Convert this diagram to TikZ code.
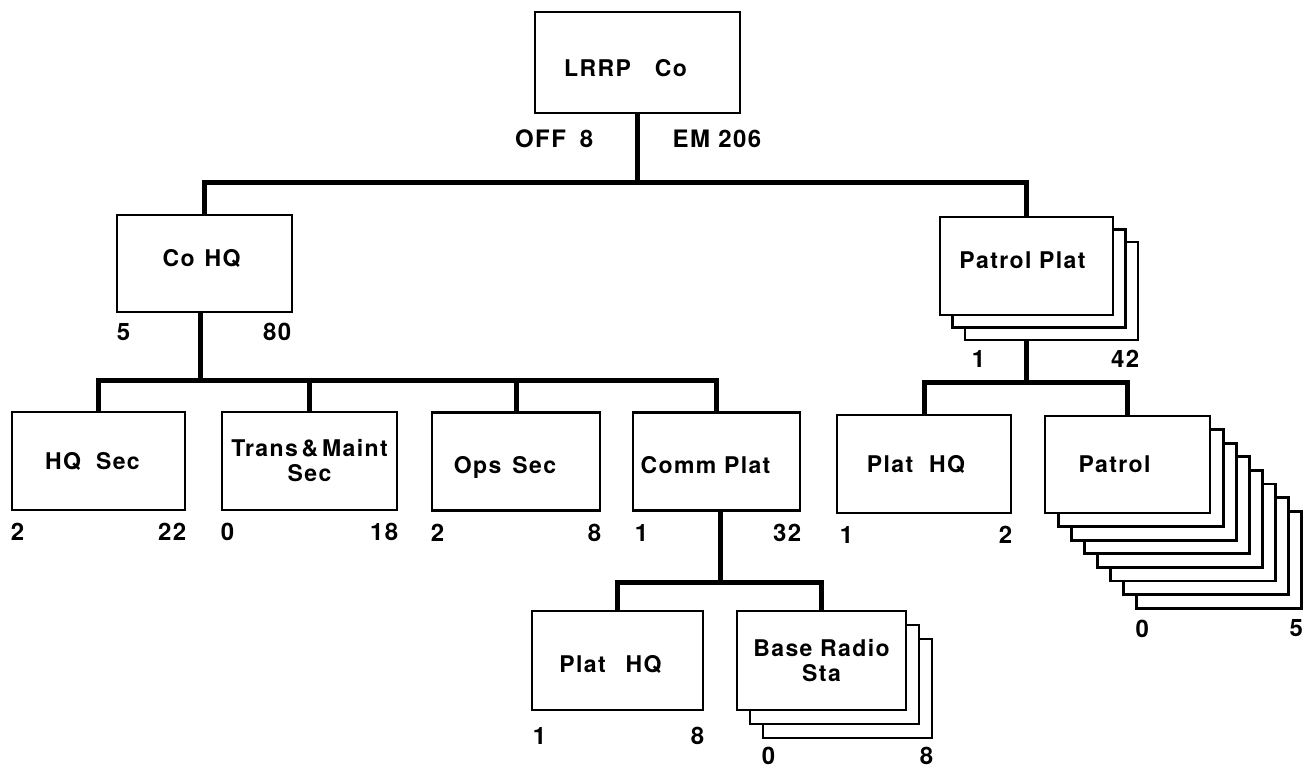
\documentclass[tikz,border=0pt]{standalone}
\usepackage{fontspec}
\newfontfamily\lf{TeX Gyre Heros}[LetterSpace=6]
\usetikzlibrary{calc}
\begin{document}
\begin{tikzpicture}[x=1pt,y=-1pt,
  box/.style={draw,line width=2.8pt,fill=white,minimum width=172pt,minimum height=98pt,
    inner sep=0pt,align=center,font=\lf\bfseries\fontsize{23}{25}\selectfont},
  vshift/.style={text height=#1,text depth=0pt},
  conn/.style={line width=5pt},
  num/.style={inner sep=0pt,font=\lf\bfseries\fontsize{24}{24}\selectfont}]
\useasboundingbox (0,0) rectangle (1308,768);

% top
\node[box,minimum width=205pt,minimum height=101pt,vshift=27.5pt] (top) at (637.5,62.5) {LRRP\hspace{24pt}Co\hspace{24pt}};
\node[box,minimum width=175pt,minimum height=97pt,vshift=6.5pt] (cohq) at (204.5,263.5) {Co\hspace{10pt}HQ\hspace{6pt}};

% Patrol Plat stack
\foreach \k in {2,1}
  \node[box,minimum width=173pt] (pp\k) at (1026.5+12.5*\k,266+12.5*\k) {};
\node[box,minimum width=173pt,vshift=4.5pt] (pp) at (1026.5,266) {Patrol Plat\hspace{8pt}};

% row 3
\node[box,minimum width=173pt] (hqsec) at (98.5,461) {HQ\hspace{15pt}Sec\hspace{12pt}};
\node[box,minimum width=175pt] (trans) at (309.5,461) {Trans\,\&\,Maint\\Sec};
\node[box,minimum width=168pt,vshift=23.5pt] (ops) at (516,461.5) {Ops\hspace{11pt}Sec\hspace{22pt}};
\node[box,minimum width=167pt,vshift=23.5pt] (comm) at (716.5,461.5) {Comm Plat\hspace{22pt}};

\node[box,minimum width=174pt] (ph1) at (924,464) {Plat\hspace{16pt}HQ\hspace{16pt}};
\foreach \k in {7,6,...,1}
  \node[box,minimum width=165pt,minimum height=97pt] (pat\k) at (1127.5+13.1*\k,464.5+13.6*\k) {};
\node[box,minimum width=165pt,minimum height=97pt] (pat) at (1127.5,464.5) {Patrol\hspace{26pt}};

% bottom
\node[box,minimum width=171pt,minimum height=99pt,vshift=24.5pt] (ph2) at (617.5,660.5) {Plat\hspace{20pt}HQ\hspace{14pt}};
\foreach \k in {2,1}
  \node[box,minimum width=169pt,minimum height=99pt] (brs\k) at (821.5+13*\k,660.5+14*\k) {};
\node[box,minimum width=169pt,minimum height=99pt] (brs) at (821.5,660.5) {Base Radio\\Sta};

% connectors
\coordinate (bus1) at (637.5,182);
\coordinate (bus2) at (200,380);
\coordinate (bus3) at (1026.5,382);
\coordinate (bus4) at (720,582);
\draw[conn] (top.south) -- (bus1);
\draw[conn] (cohq.north) |- (bus1) -| (pp.north);
\draw[conn] (cohq.south -| bus2) -- (bus2);
\draw[conn] (hqsec.north) |- (bus2) -| (comm.north);
\draw[conn] (trans.north) -- (trans.north |- bus2);
\draw[conn] (ops.north) -- (ops.north |- bus2);
\draw[conn] (pp2.south -| bus3) -- (bus3);
\draw[conn] (ph1.north) |- (bus3) -| (pat.north);
\draw[conn] (comm.south -| bus4) -- (bus4);
\draw[conn] (ph2.north) |- (bus4) -| (brs.north);

% numbers
\node[num,anchor=north east] (topoff) at ($(top.south)+(-44,15)$) {OFF\hspace{14pt}8};
\node[num,anchor=north west] (topem) at ($(top.south)+(35,15)$) {EM 206};
\node[num,anchor=north west] (cohqa) at ($(cohq.south west)+(1,10)$) {5};
\node[num,anchor=north east] (cohqb) at ($(cohq.south east)+(-2,10)$) {80};
\node[num,anchor=north west] (ppa) at ($(pp2.south west)+(8,9)$) {1};
\node[num,anchor=north east] (ppb) at ($(pp2.south east)+(0,9)$) {42};
\node[num,anchor=north west] (hqa) at ($(hqsec.south west)+(0,12)$) {2};
\node[num,anchor=north east] (hqb) at ($(hqsec.south east)+(0,12)$) {22};
\node[num,anchor=north west] (tra) at ($(trans.south west)+(0,12)$) {0};
\node[num,anchor=north east] (trb) at ($(trans.south east)+(0,12)$) {18};
\node[num,anchor=north west] (opa) at ($(ops.south west)+(0,12)$) {2};
\node[num,anchor=north east] (opb) at ($(ops.south east)+(0,12)$) {8};
\node[num,anchor=north west] (coa) at ($(comm.south west)+(3,12)$) {1};
\node[num,anchor=north east] (cob) at ($(comm.south east)+(0,12)$) {32};
\node[num,anchor=north west] (p1a) at ($(ph1.south west)+(4,12)$) {1};
\node[num,anchor=north east] (p1b) at ($(ph1.south east)+(0,12)$) {2};
\node[num,anchor=north west] (pta) at ($(pat7.south west)+(0,10)$) {0};
\node[num,anchor=north east] (ptb) at ($(pat7.south east)+(0,10)$) {5};
\node[num,anchor=north west] (p2a) at ($(ph2.south west)+(2,16)$) {1};
\node[num,anchor=north east] (p2b) at ($(ph2.south east)+(0,16)$) {8};
\node[num,anchor=north west] (bra) at ($(brs2.south west)+(0,8)$) {0};
\node[num,anchor=north east] (brb) at ($(brs2.south east)+(0,8)$) {8};
\end{tikzpicture}
\end{document}
